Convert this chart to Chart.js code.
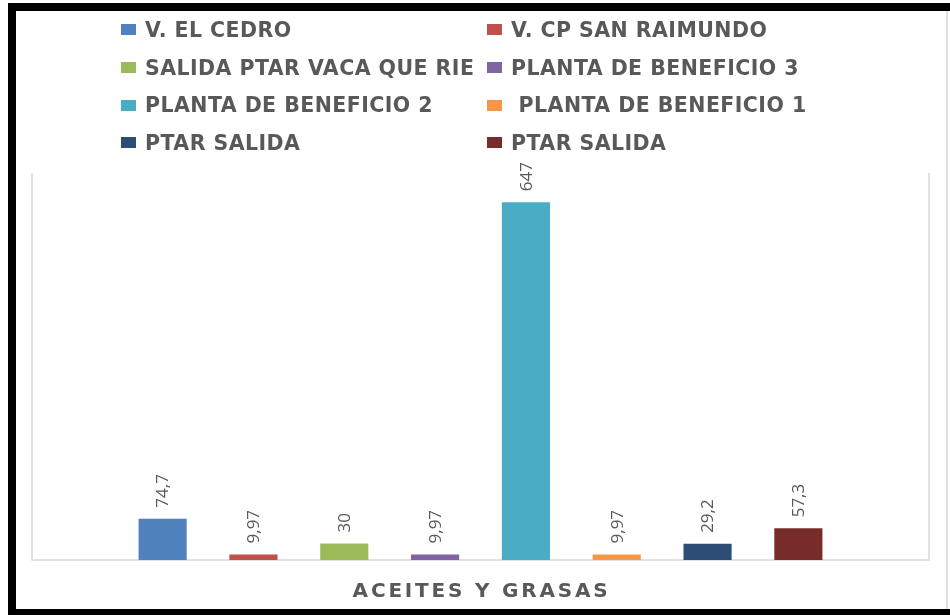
<!DOCTYPE html>
<html>
<head>
<meta charset="utf-8">
<script src="https://cdn.jsdelivr.net/npm/chart.js@4.4.1/dist/chart.umd.min.js"></script>
<style>
  html, body { margin: 0; padding: 0; background: #fff; }
  #wrap { position: relative; width: 950px; height: 615px; overflow: hidden; }
  #frame {
    position: absolute; top: 3px; left: 8px; right: -20px; bottom: 0;
    border-style: solid; border-color: #000;
    border-width: 8px 0 6px 8px;
    pointer-events: none;
  }
  #legend {
    position: absolute; left: 121px; top: 11px;
    display: grid; grid-template-columns: 366px auto;
    font-family: "DejaVu Sans", sans-serif; font-weight: bold; font-size: 20.5px; color: #595959;
    letter-spacing: 0.45px;
  }
  .item { display: flex; align-items: center; height: 37.7px; white-space: pre; }
  .box { width: 15px; height: 11px; margin-right: 9px; flex: none; }
</style>
</head>
<body>
<div id="wrap">
  <canvas id="chart" width="950" height="615"></canvas>
  <div id="legend"></div>
  <div id="frame"></div>
</div>
<script>
// Aceites y grasas por punto de muestreo
const categories = ['ACEITES Y GRASAS'];
const seriesNames = [
  'V. EL CEDRO',
  'V. CP SAN RAIMUNDO',
  'SALIDA PTAR VACA QUE RIE',
  'PLANTA DE BENEFICIO 3',
  'PLANTA DE BENEFICIO 2',
  ' PLANTA DE BENEFICIO 1',
  'PTAR SALIDA',
  'PTAR SALIDA'
];
const seriesValues = [74.7, 9.97, 30, 9.97, 647, 9.97, 29.2, 57.3];
const seriesColors = ['#4F81BD', '#C0504D', '#9BBB59', '#8064A2', '#4BACC6', '#F79646', '#2C4D75', '#772C2A'];

const datasets = seriesNames.map(function(name, i) {
  return {
    label: name,
    data: [seriesValues[i]],
    backgroundColor: seriesColors[i],
    borderWidth: 0
  };
});

// legend in two columns, like the original
const legendEl = document.getElementById('legend');
datasets.forEach(function(ds) {
  const item = document.createElement('div');
  item.className = 'item';
  const box = document.createElement('span');
  box.className = 'box';
  box.style.background = ds.backgroundColor;
  item.appendChild(box);
  item.appendChild(document.createTextNode(ds.label));
  legendEl.appendChild(item);
});

// plot frame + decoration line on the right
const framePlugin = {
  id: 'framePlugin',
  beforeDatasetsDraw: function(chart) {
    const a = chart.chartArea;
    const ctx = chart.ctx;
    ctx.save();
    ctx.strokeStyle = '#d9d9d9';
    ctx.lineWidth = 1.5;
    ctx.beginPath();
    ctx.moveTo(a.left, a.top);
    ctx.lineTo(a.left, a.bottom);
    ctx.lineTo(a.right, a.bottom);
    ctx.lineTo(a.right, a.top);
    ctx.stroke();
    ctx.strokeStyle = '#e2e2e2';
    ctx.lineWidth = 2;
    ctx.beginPath();
    ctx.moveTo(947, 11);
    ctx.lineTo(947, 609);
    ctx.stroke();
    ctx.restore();
  }
};

// rotated value labels + category label under the axis
const labelPlugin = {
  id: 'labelPlugin',
  afterDatasetsDraw: function(chart) {
    const ctx = chart.ctx;
    ctx.save();
    ctx.fillStyle = '#595959';
    ctx.font = '17px "Open Sans"';
    ctx.textAlign = 'left';
    ctx.textBaseline = 'middle';
    chart.data.datasets.forEach(function(ds, i) {
      const el = chart.getDatasetMeta(i).data[0];
      const txt = String(ds.data[0]).replace('.', ',');
      ctx.save();
      ctx.translate(el.x + 1, el.y - 11);
      ctx.rotate(-Math.PI / 2);
      ctx.fillText(txt, 0, 0);
      ctx.restore();
    });
    const x = chart.scales.x.getPixelForValue(0);
    ctx.font = 'bold 20px "DejaVu Sans"';
    ctx.letterSpacing = '2.8px';
    ctx.textAlign = 'center';
    ctx.fillText(chart.data.labels[0], x + 1, 592);
    ctx.restore();
  }
};

new Chart(document.getElementById('chart'), {
  type: 'bar',
  data: {
    labels: categories,
    datasets: datasets
  },
  options: {
    responsive: false,
    animation: false,
    layout: {
      padding: { left: 32, right: 21, top: 173, bottom: 55 }
    },
    datasets: {
      bar: {
        categoryPercentage: 0.81,
        barPercentage: 0.53
      }
    },
    scales: {
      x: { display: false },
      y: { display: false, min: 0, max: 700 }
    },
    plugins: {
      legend: { display: false },
      tooltip: { enabled: false }
    }
  },
  plugins: [framePlugin, labelPlugin]
});
</script>
</body>
</html>
